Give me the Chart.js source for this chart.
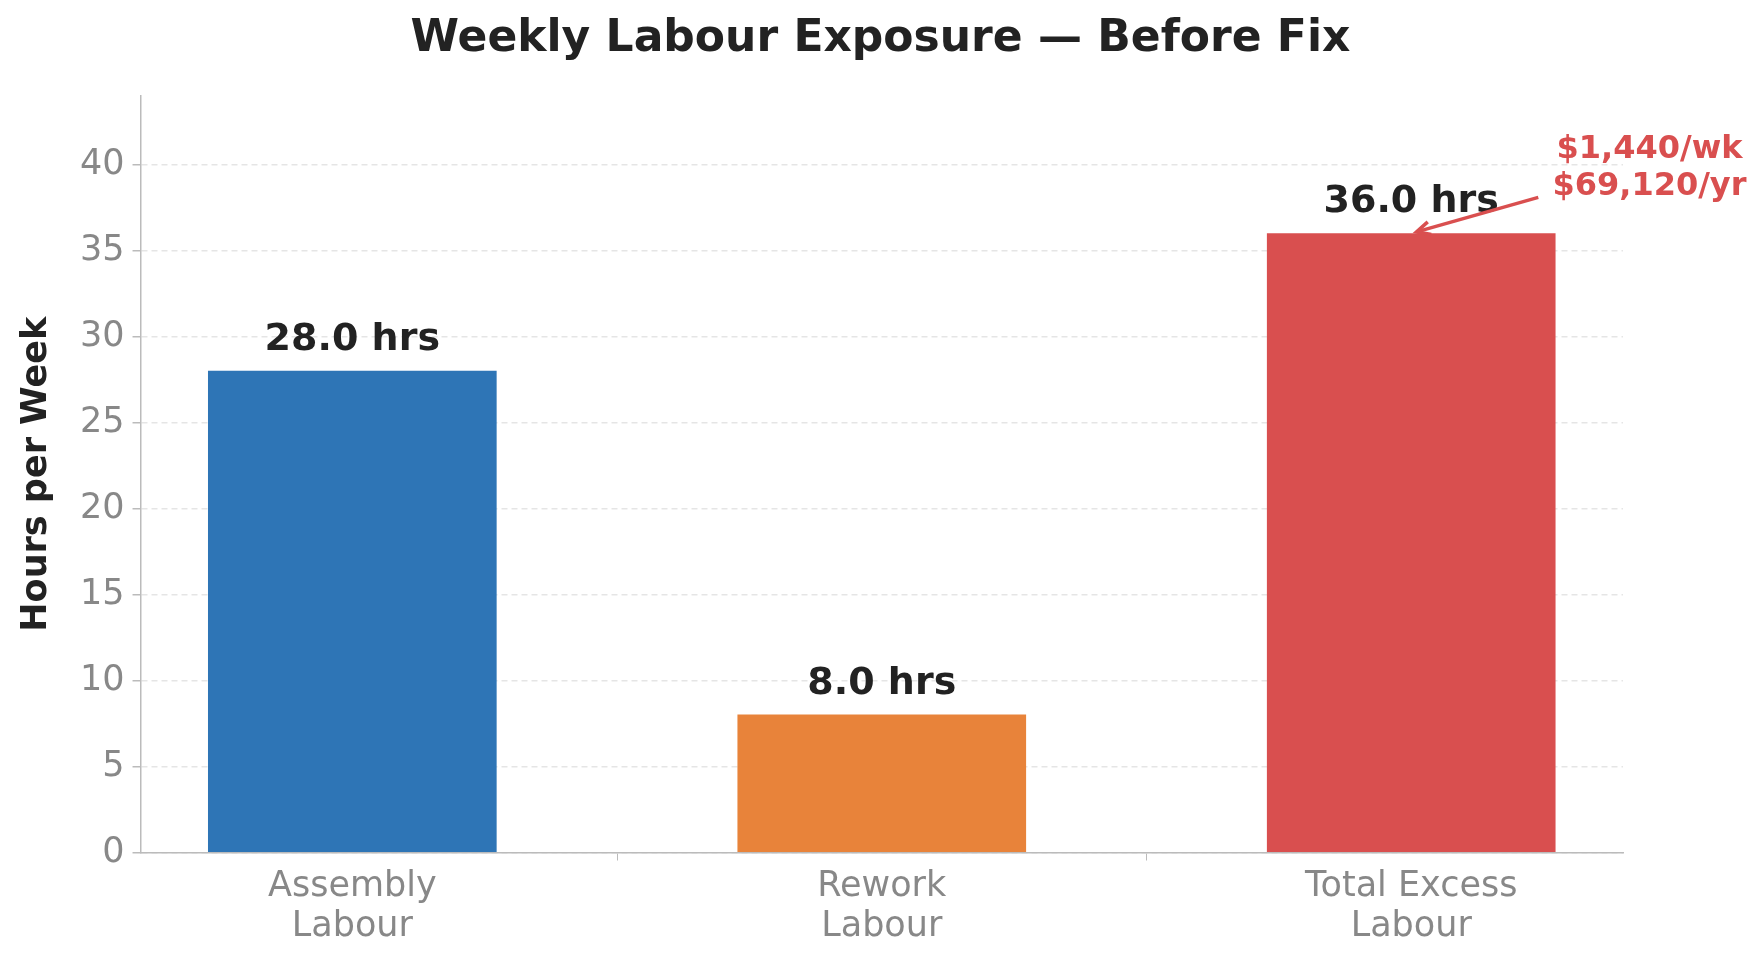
<!DOCTYPE html>
<html><head><meta charset="utf-8">
<script src="https://cdn.jsdelivr.net/npm/chart.js@4"></script>
<style>html,body{margin:0;padding:0;background:#fff}#w{width:1761px;height:959px}</style>
</head><body><div id="w"><canvas id="c"></canvas></div>
<script>
const categories = [["Assembly","Labour"],["Rework","Labour"],["Total Excess","Labour"]];
const hours = [28.0, 8.0, 36.0];
const colors = ["#2e75b6","#e8833a","#d94f4f"];
const yTicks = [0,5,10,15,20,25,30,35,40];
const annotLines = ["$1,440/wk","$69,120/yr"];
const chartTitle = "Weekly Labour Exposure — Before Fix";
const F = "DejaVu Sans";

const plugin = {
  id:'ann',
  afterDatasetsDraw(ch){
    const {ctx, scales:{x,y}} = ch;
    ctx.save();
    ctx.font = `bold 44px "${F}"`; ctx.fillStyle='#222'; ctx.textAlign='center'; ctx.textBaseline='middle';
    ctx.fillText(chartTitle, ch.width/2, 40);
    ctx.font = `bold 38px "${F}"`; ctx.fillStyle='#222'; ctx.textAlign='center'; ctx.textBaseline='bottom';
    hours.forEach((v,i)=>ctx.fillText(v.toFixed(1)+' hrs', x.getPixelForValue(i), y.getPixelForValue(v)-12));
    ctx.font = `bold 32px "${F}"`; ctx.fillStyle='#d94f4f'; ctx.textAlign='center'; ctx.textBaseline='middle';
    const ax = x.getPixelForValue(2.45);
    ctx.fillText(annotLines[0], ax, y.getPixelForValue(40.9));
    ctx.fillText(annotLines[1], ax, y.getPixelForValue(38.7));
    const x1=x.getPixelForValue(2.24), y1=y.getPixelForValue(38.1), x2=x.getPixelForValue(2.01), y2=y.getPixelForValue(36.1);
    ctx.strokeStyle='#d94f4f'; ctx.lineWidth=3.5;
    ctx.beginPath(); ctx.moveTo(x1,y1); ctx.lineTo(x2,y2); ctx.stroke();
    const a=Math.atan2(y2-y1,x2-x1);
    ctx.beginPath();
    ctx.moveTo(x2-15*Math.cos(a-0.45), y2-15*Math.sin(a-0.45));
    ctx.lineTo(x2,y2);
    ctx.lineTo(x2-15*Math.cos(a+0.45), y2-15*Math.sin(a+0.45));
    ctx.stroke();
    ctx.restore();
  }
};

new Chart(document.getElementById('c'),{
  type:'bar',
  data:{datasets:[{data:hours.map((v,i)=>({x:i,y:v})), backgroundColor:colors, barThickness:288}]},
  options:{
    responsive:true, maintainAspectRatio:false, animation:false,
    layout:{padding:{left:12,right:138,top:96,bottom:6}},
    plugins:{legend:{display:false},tooltip:{enabled:false},title:{display:false}},
    scales:{
      x:{type:'linear',min:-0.4,max:2.4,offset:false,
        afterBuildTicks(s){s.ticks=[0,1,2].map(v=>({value:v}));},
        ticks:{callback:v=>categories[v],font:{family:F,size:35,lineHeight:1.15},color:'#888',padding:6},
        grid:{drawOnChartArea:false,tickLength:8,tickColor:'#bbb'},
        border:{color:'#bbb',width:1.5}},
      y:{min:0,max:44,
        afterBuildTicks(s){s.ticks=yTicks.map(v=>({value:v}));},
        ticks:{font:{family:F,size:35},color:'#888',padding:8},
        grid:{color:'#e5e5e5',lineWidth:1.5,tickLength:8,tickColor:'#bbb'},
        border:{color:'#bbb',width:1.5,dash:[6,4]},
        title:{display:true,text:'Hours per Week',font:{family:F,size:35,weight:'bold'},color:'#222',padding:{bottom:14}}}
    }
  },
  plugins:[plugin]
});
</script></body></html>
